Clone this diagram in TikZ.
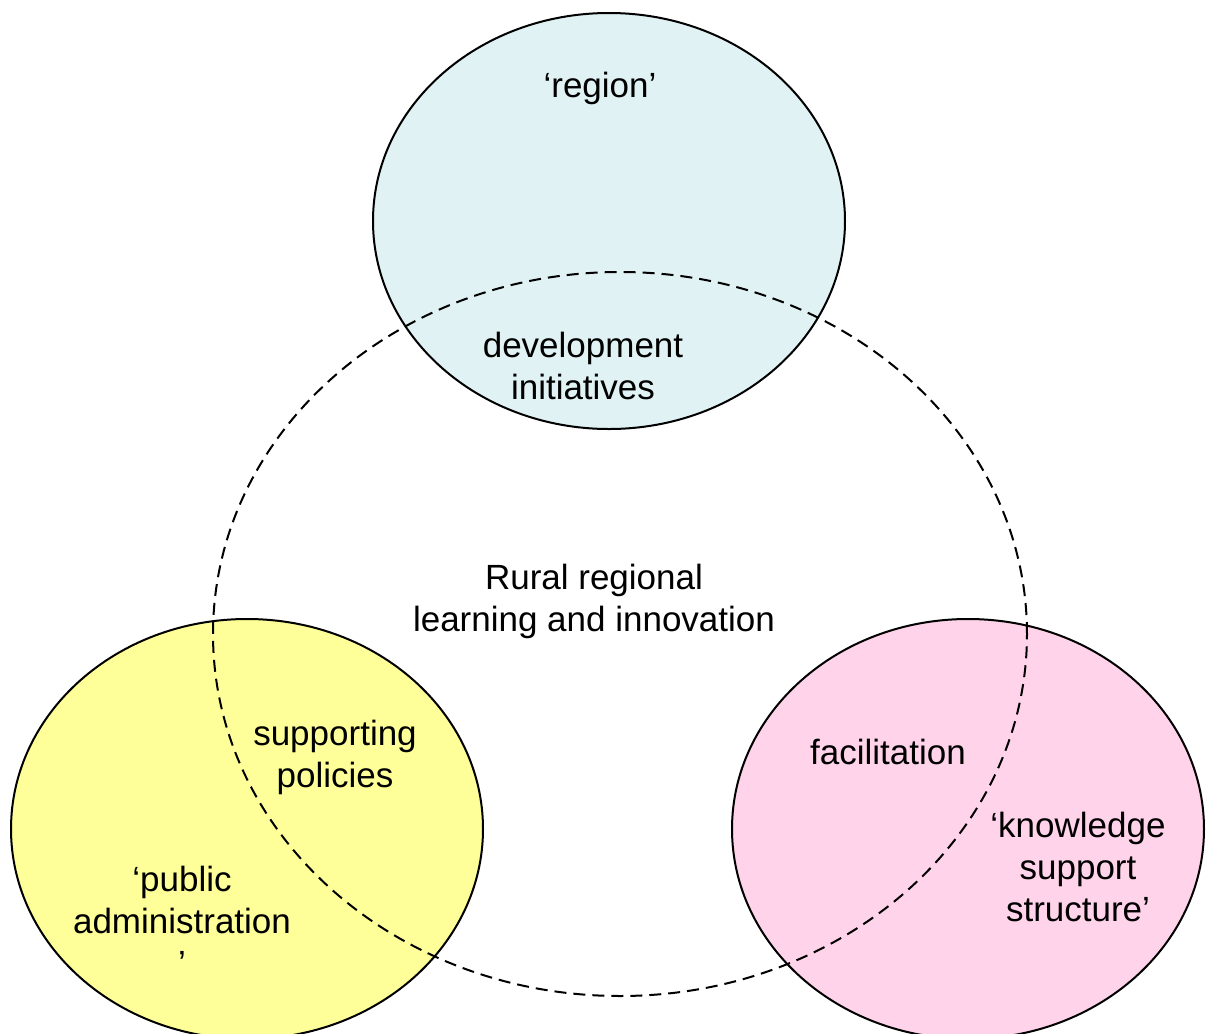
\documentclass[tikz,border=0pt]{standalone}
\usepackage{fontspec}
\setmainfont{Liberation Sans}
\usepackage{tikz}
\usetikzlibrary{positioning}
\usepackage{xcolor}
\definecolor{rgcyan}{RGB}{224,242,243}
\definecolor{rgyellow}{RGB}{255,255,153}
\definecolor{rgpink}{RGB}{255,211,234}
\tikzstyle{domainring} = [draw=black, line width=1pt]
\tikzstyle{arenaline} = [draw=black, line width=1pt, dash pattern=on 6pt off 3.5pt]
\tikzstyle{vennlabel} = [align=center, inner sep=0pt, font=\fontsize{17.5}{21}\selectfont]

\begin{document}
\begin{tikzpicture}[x=0.5pt, y=-0.5pt]
\useasboundingbox (0,0) rectangle (1206,1034);
\clip (0,0) rectangle (1206,1034);

% Three domains
\draw[domainring, fill=rgcyan] (609,221) ellipse [x radius=118pt, y radius=104pt];
\draw[domainring, fill=rgyellow] (247,829) ellipse [x radius=118pt, y radius=105pt];
\draw[domainring, fill=rgpink] (968,829) ellipse [x radius=118pt, y radius=105pt];

% Learning arena
\draw[arenaline] (620,634) ellipse [x radius=203.5pt, y radius=181pt];

% Labels
\node[vennlabel] (region) at (600,88) {‘region’};
\node[vennlabel] (devinit) at (583,366) {development\\initiatives};
\node[vennlabel] (rural) at (594,601) {Rural regional\\learning and innovation};
\node[vennlabel] (policies) at (335,757) {supporting\\policies};
\node[vennlabel] (publicadm) at (182,921) {‘public\\administration\\’};
\node[vennlabel] (facil) at (888,752) {facilitation};
\node[vennlabel] (knowledge) at (1078,867) {‘knowledge\\support\\structure’};
\end{tikzpicture}
\end{document}
